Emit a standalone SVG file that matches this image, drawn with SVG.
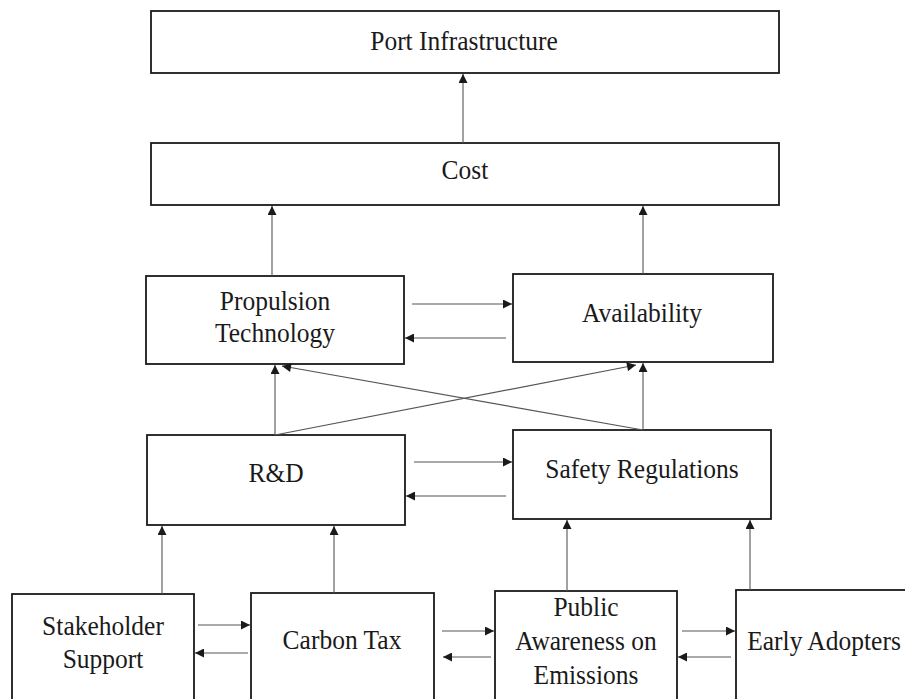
<svg xmlns="http://www.w3.org/2000/svg" width="905" height="699" viewBox="0 0 905 699">
<defs>
<marker id="ah" viewBox="0 0 10 10" refX="10" refY="5" markerWidth="10" markerHeight="9" markerUnits="userSpaceOnUse" orient="auto">
<path d="M0,0 L10,5 L0,10 z" fill="#1a1a1a"/>
</marker>
</defs>
<style>
.box{fill:#fff;stroke:#1a1a1a;stroke-width:1.8}
.lbl{font-family:'Liberation Serif','Times New Roman',serif;font-size:25.5px;fill:#1a1a1a;text-anchor:middle}
.c line{stroke:#555;stroke-width:1.1;marker-end:url(#ah)}
</style>
<rect width="905" height="699" fill="#fff"/>
<g id="port"><rect class="box" x="151" y="11" width="628" height="62"/><text class="lbl" transform="translate(464,50) scale(1,1.1)">Port Infrastructure</text></g>
<g id="cost"><rect class="box" x="151" y="143" width="628" height="62"/><text class="lbl" transform="translate(465,179) scale(1,1.1)">Cost</text></g>
<g id="prop"><rect class="box" x="146" y="276" width="258" height="88"/><text class="lbl" transform="translate(275,310) scale(1,1.1)">Propulsion</text><text class="lbl" transform="translate(275,342) scale(1,1.1)">Technology</text></g>
<g id="avail"><rect class="box" x="513" y="274" width="260" height="88"/><text class="lbl" transform="translate(642,322) scale(1,1.1)">Availability</text></g>
<g id="rd"><rect class="box" x="147" y="435" width="258" height="90"/><text class="lbl" transform="translate(276,482) scale(1,1.1)">R&amp;D</text></g>
<g id="safety"><rect class="box" x="513" y="430" width="258" height="89"/><text class="lbl" transform="translate(642,478) scale(1,1.1)">Safety Regulations</text></g>
<g id="stake"><rect class="box" x="12" y="594" width="182" height="110"/><text class="lbl" transform="translate(103,635) scale(1,1.1)">Stakeholder</text><text class="lbl" transform="translate(103,668) scale(1,1.1)">Support</text></g>
<g id="carbon"><rect class="box" x="251" y="593" width="183" height="110"/><text class="lbl" transform="translate(342,649) scale(1,1.1)">Carbon Tax</text></g>
<g id="public"><rect class="box" x="495" y="591" width="182" height="110"/><text class="lbl" transform="translate(586,616) scale(1,1.1)">Public</text><text class="lbl" transform="translate(586,650) scale(1,1.1)">Awareness on</text><text class="lbl" transform="translate(586,684) scale(1,1.1)">Emissions</text></g>
<g id="early"><rect class="box" x="736" y="590" width="180" height="112"/><text class="lbl" transform="translate(824,650) scale(1,1.1)">Early Adopters</text></g>
<g id="connectors" class="c">
<line x1="463" y1="143" x2="463" y2="74"/>
<line x1="272" y1="276" x2="272" y2="206"/>
<line x1="643" y1="274" x2="643" y2="206"/>
<line x1="412" y1="304" x2="512" y2="304"/>
<line x1="506" y1="338" x2="405" y2="338"/>
<line x1="275" y1="435" x2="275" y2="365"/>
<line x1="643" y1="430" x2="643" y2="363"/>
<line x1="275" y1="435" x2="636" y2="365"/>
<line x1="643" y1="430" x2="282" y2="366"/>
<line x1="414" y1="462" x2="512" y2="462"/>
<line x1="506" y1="496" x2="406" y2="496"/>
<line x1="162" y1="594" x2="162" y2="526"/>
<line x1="334" y1="593" x2="334" y2="526"/>
<line x1="567" y1="591" x2="567" y2="520"/>
<line x1="750" y1="590" x2="750" y2="520"/>
<line x1="198" y1="625" x2="250" y2="625"/>
<line x1="248" y1="653" x2="195" y2="653"/>
<line x1="442" y1="631" x2="494" y2="631"/>
<line x1="491" y1="657" x2="443" y2="657"/>
<line x1="682" y1="631" x2="735" y2="631"/>
<line x1="731" y1="657" x2="678" y2="657"/>
</g>
</svg>
